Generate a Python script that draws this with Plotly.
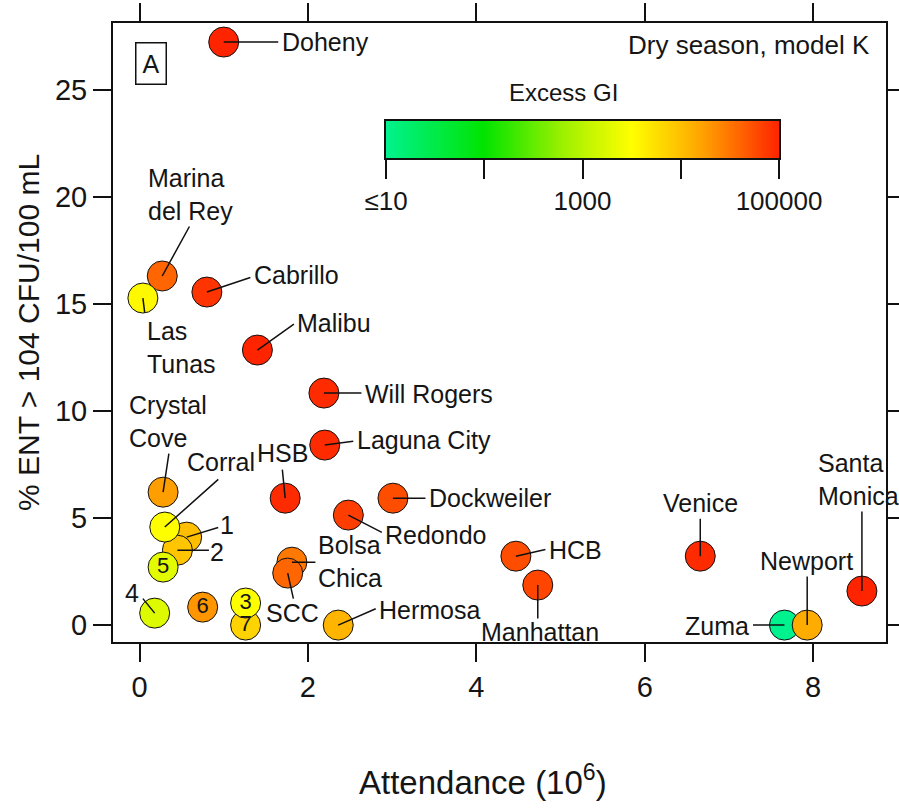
import numpy as np
import plotly.graph_objects as go

# Beach data: attendance (millions), % ENT exceedance, modeled excess GI
sites = ["Doheny", "Marina del Rey", "Las Tunas", "Cabrillo", "Malibu",
         "Will Rogers", "Laguna City", "Crystal Cove", "HSB", "1", "2",
         "Corral", "5", "4", "6", "7", "3", "Bolsa Chica", "SCC", "Hermosa",
         "Redondo", "Dockweiler", "HCB", "Manhattan", "Venice", "Zuma",
         "Newport", "Santa Monica"]
attendance = [1.00, 0.27, 0.04, 0.80, 1.40,
              2.19, 2.20, 0.28, 1.73, 0.56, 0.45,
              0.30, 0.28, 0.18, 0.75, 1.26, 1.26, 1.81, 1.76, 2.36,
              2.48, 3.01, 4.47, 4.73, 6.66, 7.66,
              7.93, 8.58]
pct_ent = [27.24, 16.31, 15.28, 15.56, 12.85,
           10.84, 8.41, 6.21, 5.93, 4.11, 3.50,
           4.58, 2.71, 0.56, 0.84, 0.0, 1.03, 2.94, 2.43, 0.0,
           5.14, 5.93, 3.22, 1.87, 3.22, 0.0,
           0.0, 1.59]
excess_gi = [100000, 40000, 3500, 80000, 100000,
             90000, 90000, 18000, 90000, 10000, 9000,
             3200, 2000, 1800, 20000, 7000, 3200, 30000, 40000, 12000,
             70000, 56000, 56000, 63000, 90000, 10,
             14000, 100000]

# Colour bar ticks (log10 of excess GI)
cbar_vals = [1, 2, 3, 4, 5]
cbar_text = ["\u226410", "", "1000", "", "100000"]

# Label placement: text offset (px, y down), anchor, leader end offset (px)
label_style = {
    "Doheny": (56, 0, "left", (56, 0)),
    "Marina del Rey": (-16, -81, "left", (28, -51)),
    "Las Tunas": (2, 49, "left", (2, 16)),
    "Cabrillo": (45, -17, "left", (45, -15)),
    "Malibu": (38, -27, "left", (38, -27)),
    "Will Rogers": (39, 1, "left", (39, 0)),
    "Laguna City": (30, -5, "left", (30, -4)),
    "Crystal Cove": (-36, -71, "left", (6, -40)),
    "HSB": (-3, -45, "center", (-3, -30)),
    "Corral": (20, -65, "left", (55, -49)),
    "1": (40, -12, "center", (33, -10)),
    "2": (40, 2, "center", (33, 0)),
    "4": (-23, -20, "center", (-13, -16)),
    "Bolsa Chica": (24, -1, "left", (25, 0)),
    "SCC": (5, 40, "center", (6, 27)),
    "Hermosa": (39, -15, "left", (39, -17)),
    "Redondo": (35, 20, "left", (35, 18)),
    "Dockweiler": (34, 0, "left", (34, 0)),
    "HCB": (31, -6, "left", (31, -7)),
    "Manhattan": (2, 47, "center", (0, 35)),
    "Venice": (0, -53, "center", (0, -39)),
    "Zuma": (-33, 1, "right", (-33, 0)),
    "Newport": (-1, -64, "center", (0, -50)),
    "Santa Monica": (-46, -112, "left", (0, -81)),
}
multi_line = {"Marina del Rey": "Marina<br>del Rey", "Las Tunas": "Las<br>Tunas",
              "Crystal Cove": "Crystal<br>Cove", "Bolsa Chica": "Bolsa<br>Chica",
              "Santa Monica": "Santa<br>Monica"}
inside = ["5", "6", "7", "3"]

FONT = "Liberation Sans, Arial, sans-serif"
INK = "#151515"

colorscale = [[0.0, "#00f28e"], [0.25, "#00e400"], [0.45, "#9ef000"],
              [0.625, "#ffff00"], [0.81, "#ffa000"], [1.0, "#ff2400"]]

gi_log = np.log10(excess_gi)

fig = go.Figure()
fig.add_trace(go.Scatter(
    x=attendance, y=pct_ent, mode="markers",
    marker=dict(size=30, color=gi_log, cmin=1, cmax=5, colorscale=colorscale,
                line=dict(color="#111", width=1), showscale=False),
    hoverinfo="skip", showlegend=False, cliponaxis=False,
))

# numbers printed on top of their own markers
idx = [sites.index(s) for s in inside]
fig.add_trace(go.Scatter(
    x=[attendance[i] for i in idx], y=[pct_ent[i] for i in idx],
    mode="text", text=inside, textposition="middle center",
    textfont=dict(family=FONT, size=22, color=INK),
    hoverinfo="skip", showlegend=False, cliponaxis=False,
))

# colour key: a log10 ramp drawn as a one-row heatmap on its own axes
ramp_edges = np.linspace(1, 5, 201)
ramp_mid = 0.5 * (ramp_edges[:-1] + ramp_edges[1:])
fig.add_trace(go.Heatmap(
    x=ramp_mid, y=[0], z=[ramp_mid], zmin=1, zmax=5,
    colorscale=colorscale, showscale=False, hoverinfo="skip",
    xaxis="x2", yaxis="y2",
))

annotations = []
for s, xv, yv in zip(sites, attendance, pct_ent):
    if s not in label_style:
        continue
    tx, ty, anchor, leader = label_style[s]
    annotations.append(dict(
        x=xv, y=yv, xref="x", yref="y", text=multi_line.get(s, s),
        showarrow=False, xshift=tx, yshift=-ty, xanchor=anchor,
        yanchor="middle", align="left",
        font=dict(family=FONT, size=25, color=INK)))
    annotations.append(dict(
        x=xv, y=yv, xref="x", yref="y", text="", showarrow=True,
        arrowhead=0, arrowwidth=1.5, arrowcolor="#111",
        ax=leader[0], ay=leader[1], standoff=0, startstandoff=0))

annotations += [
    dict(x=0.049, y=0.935, xref="paper", yref="paper", text="A",
         showarrow=False, xanchor="center", yanchor="middle",
         font=dict(family=FONT, size=25, color=INK),
         bordercolor="#111", borderwidth=1.5, borderpad=6),
    dict(x=0.982, y=0.9645, xref="paper", yref="paper",
         text="Dry season, model K", showarrow=False,
         xanchor="right", yanchor="middle",
         font=dict(family=FONT, size=26, color=INK)),
    dict(x=0.5834, y=0.8885, xref="paper", yref="paper",
         text="Excess GI", showarrow=False,
         xanchor="center", yanchor="middle",
         font=dict(family=FONT, size=24, color=INK)),
    dict(x=0.4787, y=-0.223, xref="paper", yref="paper",
         text="Attendance (10<sup>6</sup>)", showarrow=False,
         xanchor="center", yanchor="middle",
         font=dict(family=FONT, size=33, color=INK)),
    dict(x=-0.110, y=0.5008, xref="paper", yref="paper",
         text="% ENT > 104 CFU/100 mL", showarrow=False, textangle=-90,
         xanchor="center", yanchor="middle",
         font=dict(family=FONT, size=30, color=INK)),
]

axis_common = dict(
    showgrid=False, zeroline=False, showline=True, linecolor="#111",
    linewidth=2, mirror="ticks", ticks="outside", ticklen=18,
    tickwidth=1.5, tickcolor="#111", automargin=False,
    tickfont=dict(family=FONT, size=29, color=INK),
)
fig.update_layout(
    template="none",
    xaxis=dict(range=[-0.315, 8.866], tickvals=[0, 2, 4, 6, 8], **axis_common),
    yaxis=dict(range=[-0.79, 28.13], tickvals=[0, 5, 10, 15, 20, 25], **axis_common),
    xaxis2=dict(domain=[0.3532, 0.8616], anchor="y2", range=[1, 5],
                tickvals=cbar_vals, ticktext=cbar_text, ticks="outside",
                ticklen=19, tickwidth=1.5, tickcolor="#111",
                showline=True, mirror=True, linecolor="#111", linewidth=2,
                showgrid=False, zeroline=False, automargin=False,
                tickfont=dict(family=FONT, size=26, color=INK)),
    yaxis2=dict(domain=[0.7819, 0.8417], anchor="x2", range=[-0.5, 0.5],
                showticklabels=False, ticks="", showline=True, mirror=True,
                linecolor="#111", linewidth=2, showgrid=False,
                zeroline=False, automargin=False),
)

fig.update_layout(
    width=899, height=809,
    margin=dict(l=113, r=13, t=23, b=167),
    paper_bgcolor="white", plot_bgcolor="white",
    annotations=annotations,
    font=dict(family=FONT, color=INK),
)

fig.write_html("out.html")
